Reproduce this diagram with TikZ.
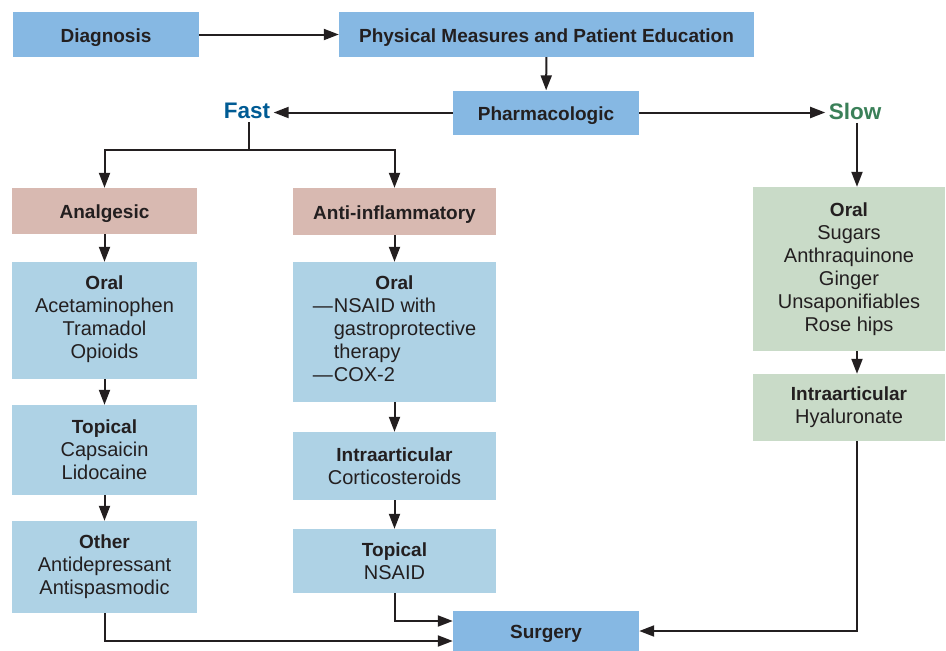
\documentclass[tikz,border=0pt]{standalone}
\usepackage{fontspec}
\setmainfont{Liberation Sans}
\usetikzlibrary{arrows.meta,calc}
\definecolor{dblue}{HTML}{86B8E3}
\definecolor{lblue}{HTML}{AED2E5}
\definecolor{pinkc}{HTML}{D8B9B1}
\definecolor{greenc}{HTML}{C9DBC8}
\definecolor{fastc}{HTML}{005B94}
\definecolor{slowc}{HTML}{3A8058}
\definecolor{txt}{HTML}{231F20}
\newcommand{\hd}[1]{{\fontsize{19}{23}\selectfont\bfseries #1}}
\begin{document}
\begin{tikzpicture}[x=1pt,y=-1pt,
  box/.style={draw=none, inner sep=0pt, align=center, text=txt,
    font=\fontsize{20}{23}\selectfont},
  dbox/.style={box, fill=dblue, text height=17pt, text depth=2pt},
  lbox/.style={box, fill=lblue},
  pbox/.style={box, fill=pinkc, text height=17pt, text depth=2pt},
  gbox/.style={box, fill=greenc},
  lab/.style={font=\fontsize{22.5}{26}\selectfont\bfseries},
  arr/.style={-{Triangle[length=15pt,width=11pt]}, line width=2pt, draw=txt},
  ln/.style={line width=2pt, draw=txt}
]
\useasboundingbox (0,0) rectangle (946,651);

\node[dbox, minimum width=186pt, minimum height=45pt] (diag) at (106,34.5) {\hd{Diagnosis}};
\node[dbox, minimum width=415pt, minimum height=45pt] (phys) at (546.5,34.5) {\hd{Physical Measures and Patient Education}};
\node[dbox, minimum width=186pt, minimum height=44pt] (pharm) at (546,112.5) {\hd{Pharmacologic}};
\node[lab, text=fastc] (fast) at (247,111) {Fast};
\node[lab, text=slowc] (slow) at (855,111) {Slow};

\node[pbox, minimum width=185pt, minimum height=46pt] (analg) at (104.5,211) {\hd{Analgesic}};
\node[pbox, minimum width=203pt, minimum height=47pt] (antiinf) at (394.5,211.5) {\hd{Anti-inflammatory}};

\node[lbox, minimum width=185pt, minimum height=117pt] (oralL) at (104.5,320.5) {\hd{Oral}\\Acetaminophen\\Tramadol\\Opioids\\[-16pt]};
\node[lbox, minimum width=185pt, minimum height=90pt] (topL) at (104.5,450) {\hd{Topical}\\Capsaicin\\Lidocaine};
\node[lbox, minimum width=185pt, minimum height=92pt] (otherL) at (104.5,567) {\hd{Other}\\Antidepressant\\Antispasmodic};

\node[lbox, minimum width=203pt, minimum height=140pt] (oralM) at (394.5,332) {\hd{Oral}\\\begin{tabular}[t]{@{}l@{\hspace{1pt}}l@{}}—&NSAID with\\ &gastroprotective\\ &therapy\\—&COX-2\end{tabular}};
\node[lbox, minimum width=203pt, minimum height=68pt] (intraM) at (394.5,466) {\hd{Intraarticular}\\Corticosteroids};
\node[lbox, minimum width=203pt, minimum height=64pt] (topM) at (394.5,561) {\hd{Topical}\\NSAID};

\node[dbox, minimum width=186pt, minimum height=40pt] (surg) at (546,631) {\hd{Surgery}};

\node[gbox, minimum width=192pt, minimum height=164pt] (oralR) at (849,269) {\hd{Oral}\\Sugars\\Anthraquinone\\Ginger\\Unsaponifiables\\Rose hips};
\node[gbox, minimum width=192pt, minimum height=67pt] (intraR) at (849,407.5) {\hd{Intraarticular}\\Hyaluronate};

\coordinate (fj) at (249,150);
\coordinate (rx) at (857,0);

\draw[arr] (diag) -- (phys);
\draw[arr] (phys) -- (pharm);
\draw[arr] (pharm.west) -- (pharm.west -| fast.east);
\draw[arr] (pharm.east) -- (pharm.east -| slow.west);
\draw[ln] (fast.south -| fj) -- (fj);
\draw[arr] (fj) -| (analg.north);
\draw[arr] (fj) -| (antiinf.north);

\draw[arr] (analg) -- (oralL);
\draw[arr] (oralL) -- (topL);
\draw[arr] (topL) -- (otherL);

\draw[arr] (antiinf) -- (oralM);
\draw[arr] (oralM) -- (intraM);
\draw[arr] (intraM) -- (topM);

\draw[arr] (slow.south -| rx) -- (oralR.north -| rx);
\draw[arr] (oralR.south -| rx) -- (intraR.north -| rx);

\draw[arr] (otherL.south) |- ($(surg.west)+(0,10)$);
\draw[arr] (topM.south) |- ($(surg.west)+(0,-10)$);
\draw[arr] (intraR.south -| rx) |- (surg.east);
\end{tikzpicture}
\end{document}
